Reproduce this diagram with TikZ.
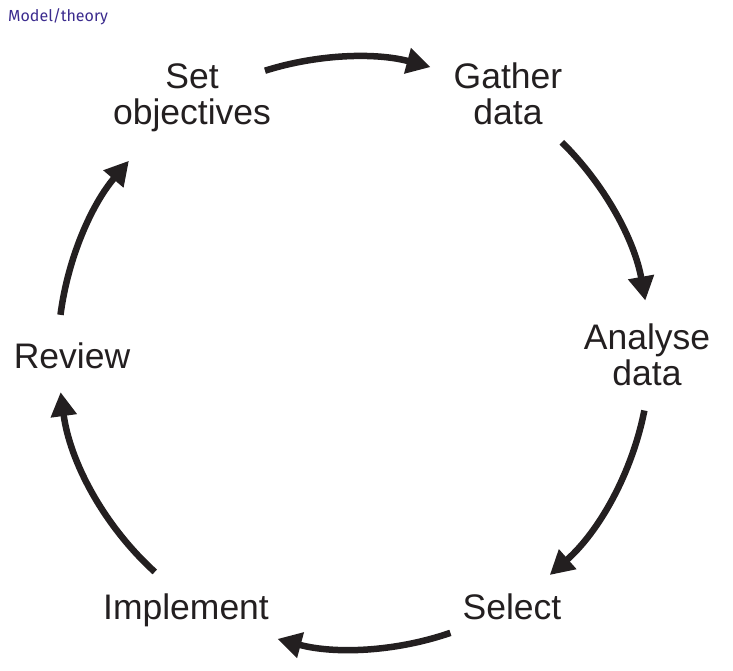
\documentclass[tikz,border=0pt]{standalone}
\usepackage{fontspec}
\setmainfont{Liberation Sans}
\newfontfamily\titlefont{Fira Sans}
\usetikzlibrary{arrows.meta}
\definecolor{ink}{HTML}{231F20}
\definecolor{titleblue}{HTML}{3B2B8E}
\begin{document}
\begin{tikzpicture}[x=1pt,y=1pt,
  lbl/.style={font=\fontsize{35.5}{36.5}\selectfont, text=ink, align=center, inner sep=0pt, anchor=base},
  cyc/.style={line width=6.5pt, draw=ink, -{Triangle[length=24pt,width=25pt]}}]
\useasboundingbox (0,0) rectangle (733,671);
\node[font=\titlefont\fontsize{16}{18}\selectfont, text=titleblue, anchor=base west, inner sep=0pt] (title) at (8,649) {Model/theory};
\coordinate (c) at (354,318);
\node[lbl] (set) at (192,546) {Set\\objectives};
\node[lbl] (gather) at (508,546) {Gather\\data};
\node[lbl] (analyse) at (647,285) {Analyse\\data};
\node[lbl] (select) at (512,51) {Select};
\node[lbl] (impl) at (186,51) {Implement};
\node[lbl] (review) at (72,302) {Review};
\draw[cyc] (c) ++(107.5:296) arc[start angle=107.5, end angle=75, radius=296];
\draw[cyc] (c) ++(45.4:296) arc[start angle=45.4, end angle=10.2, radius=296];
\draw[cyc] (c) ++(-11.2:296) arc[start angle=-11.2, end angle=-48.6, radius=296];
\draw[cyc] (c) ++(-71:296) arc[start angle=-71, end angle=-105, radius=296];
\draw[cyc] (c) ++(227.7:296) arc[start angle=227.7, end angle=187.6, radius=296];
\draw[cyc] (c) ++(172.6:296) arc[start angle=172.6, end angle=139.5, radius=296];
\end{tikzpicture}
\end{document}
